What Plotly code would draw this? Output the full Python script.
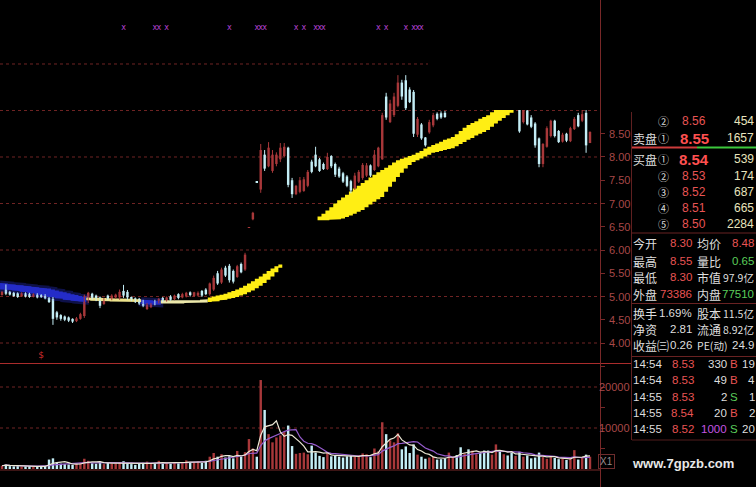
import plotly.graph_objects as go
import pandas as pd

W, H = 756, 487

# ---------------- daily candles (index 0 = oldest) ----------------
opens = [5.03, 5.16, 5.10, 5.08, 5.07, 5.00, 5.07, 5.06, 4.99, 5.05, 5.04, 5.03, 4.97, 4.95, 4.66, 4.60, 4.57, 4.55, 4.52, 4.47,
         4.52, 4.58, 4.92, 5.06, 5.02, 4.98, 4.84, 5.02, 4.95, 4.98, 4.98, 5.12, 5.10, 4.99, 4.96, 4.95, 4.90, 4.73, 4.77, 4.90,
         4.87, 4.97, 4.91, 5.00, 4.94, 5.05, 4.98, 5.00, 5.09, 5.01, 5.02, 5.12, 5.15, 5.05, 5.15, 5.50, 5.30, 5.62, 5.66, 5.55,
         5.42, 5.70, 5.58, 6.48, 6.66, 7.47, 7.30, 8.05, 7.80, 7.70, 7.85, 7.95, 8.02, 8.20, 7.50, 7.20, 7.25, 7.27, 7.38, 7.90,
         8.05, 7.95, 7.85, 7.74, 8.02, 7.85, 7.75, 7.65, 7.58, 7.48, 7.32, 7.47, 7.55, 7.60, 7.82, 7.72, 7.80, 7.95, 9.30, 8.75,
         8.90, 9.10, 9.60, 9.65, 9.45, 9.40, 8.48, 8.70, 8.42, 8.53, 8.68, 8.93, 8.94, 8.95, 9.10, 9.35, 9.62, 9.50, 9.30, 9.70,
         9.55, 9.90, 10.20, 9.95, 9.72, 9.50, 9.70, 9.98, 9.70, 9.85, 9.55, 9.28, 9.05, 8.75, 9.00, 8.85, 8.72, 8.40, 7.85, 8.22,
         8.45, 8.78, 8.56, 8.33, 8.50, 8.34, 8.60, 8.90, 8.78, 8.95, 8.30]
highs = [5.12, 5.26, 5.12, 5.10, 5.09, 5.09, 5.09, 5.08, 5.07, 5.07, 5.05, 5.05, 4.99, 4.99, 4.69, 4.62, 4.59, 4.57, 4.53, 4.56,
         4.65, 5.04, 5.10, 5.08, 5.04, 5.00, 4.97, 5.04, 5.05, 5.06, 5.15, 5.25, 5.14, 5.00, 4.98, 4.97, 4.93, 4.86, 4.86, 4.93,
         4.97, 4.99, 5.00, 5.03, 5.04, 5.07, 5.08, 5.10, 5.11, 5.10, 5.11, 5.14, 5.18, 5.30, 5.45, 5.55, 5.62, 5.66, 5.70, 5.58,
         5.68, 5.73, 5.94, 6.49, 6.82, 7.48, 8.28, 8.15, 8.32, 8.15, 8.10, 8.30, 8.30, 8.22, 7.55, 7.40, 7.57, 7.57, 7.72, 7.94,
         8.22, 7.98, 7.88, 8.09, 8.04, 7.88, 7.79, 7.68, 7.61, 7.51, 7.66, 7.72, 7.87, 7.87, 7.84, 8.15, 8.22, 8.95, 9.38, 9.23,
         9.38, 9.76, 9.66, 9.76, 9.50, 9.44, 8.86, 8.73, 8.43, 8.80, 8.95, 8.96, 8.98, 8.99, 9.40, 9.66, 9.70, 9.55, 9.70, 9.80,
         9.98, 10.25, 10.30, 10.00, 9.78, 9.80, 10.08, 10.02, 9.92, 9.88, 9.60, 9.48, 9.20, 9.20, 9.10, 8.90, 8.75, 8.42, 8.30, 8.66,
         8.80, 8.80, 8.58, 8.52, 8.52, 8.65, 8.86, 8.95, 9.05, 9.10, 8.55]
lows = [5.02, 5.03, 5.02, 4.99, 4.97, 4.99, 4.98, 4.97, 4.98, 4.96, 4.97, 4.94, 4.86, 4.39, 4.50, 4.48, 4.47, 4.45, 4.43, 4.45,
        4.50, 4.54, 4.86, 4.93, 4.90, 4.75, 4.82, 4.92, 4.92, 4.95, 4.93, 4.97, 4.93, 4.90, 4.86, 4.82, 4.77, 4.71, 4.75, 4.81,
        4.85, 4.88, 4.89, 4.91, 4.92, 4.94, 4.96, 4.98, 5.00, 4.99, 5.00, 4.99, 5.03, 5.02, 5.12, 5.25, 5.27, 5.42, 5.30, 5.28,
        5.40, 5.50, 5.55, 6.48, 6.64, 7.44, 7.23, 7.70, 7.78, 7.66, 7.80, 7.89, 8.00, 7.35, 7.12, 7.18, 7.22, 7.25, 7.35, 7.65,
        7.78, 7.68, 7.72, 7.72, 7.76, 7.57, 7.55, 7.44, 7.35, 7.22, 7.29, 7.44, 7.51, 7.57, 7.57, 7.70, 7.78, 7.94, 8.80, 8.73,
        8.86, 9.07, 9.23, 9.01, 9.16, 8.43, 8.43, 8.37, 8.22, 8.50, 8.64, 8.79, 8.82, 8.84, 9.06, 9.30, 9.40, 9.25, 9.28, 9.50,
        9.52, 9.85, 9.90, 9.62, 9.45, 9.46, 9.66, 9.60, 9.62, 9.48, 9.22, 9.18, 8.52, 8.72, 8.68, 8.62, 8.20, 7.78, 7.78, 8.20,
        8.42, 8.42, 8.30, 8.31, 8.32, 8.32, 8.58, 8.64, 8.75, 8.09, 8.30]
closes = [5.10, 5.06, 5.04, 5.01, 4.99, 5.07, 5.00, 4.99, 5.05, 4.98, 4.99, 4.96, 4.88, 4.52, 4.55, 4.52, 4.50, 4.48, 4.46, 4.53,
          4.62, 5.00, 5.08, 4.97, 4.94, 4.80, 4.94, 4.94, 5.02, 5.04, 5.10, 5.02, 4.98, 4.92, 4.88, 4.85, 4.80, 4.82, 4.84, 4.83,
          4.95, 4.91, 4.98, 4.93, 5.02, 4.97, 5.05, 5.08, 5.03, 5.09, 5.08, 5.02, 5.05, 5.28, 5.40, 5.28, 5.58, 5.45, 5.35, 5.32,
          5.65, 5.52, 5.90, 6.49, 6.80, 7.45, 8.15, 7.75, 8.20, 8.05, 8.05, 8.20, 8.22, 7.40, 7.20, 7.38, 7.50, 7.52, 7.68, 7.68,
          7.80, 7.70, 7.74, 8.00, 7.80, 7.62, 7.58, 7.47, 7.38, 7.28, 7.60, 7.68, 7.83, 7.82, 7.60, 8.05, 8.20, 8.90, 8.85, 9.15,
          9.30, 9.60, 9.30, 9.05, 9.18, 8.50, 8.82, 8.40, 8.25, 8.75, 8.90, 8.82, 8.85, 8.86, 9.35, 9.60, 9.45, 9.30, 9.65, 9.55,
          9.90, 10.15, 9.95, 9.70, 9.50, 9.72, 10.00, 9.70, 9.85, 9.55, 9.30, 9.40, 8.55, 9.05, 8.70, 8.65, 8.25, 7.85, 8.28, 8.62,
          8.78, 8.45, 8.32, 8.48, 8.35, 8.62, 8.82, 8.66, 8.92, 8.25, 8.54]
volumes = [800, 1100, 700, 650, 700, 600, 650, 700, 600, 650, 600, 700, 2300, 2600, 1500, 1300, 1200, 1100, 1000, 1300,
           1500, 2500, 2000, 1400, 1300, 1800, 1200, 1500, 1300, 1400, 1700, 1900, 1400, 1200, 1000, 1300, 1500, 1800, 1200, 1400,
           2000, 1300, 1500, 1300, 1600, 1400, 1700, 2100, 1700, 1600, 1900, 1500, 2000, 3000, 3900, 3000, 3600, 2800, 3100, 2600,
           4400, 3000, 4100, 7300, 5000, 3000, 21700, 14400, 8500, 6500, 7700, 8200, 9000, 10600, 5600, 3700, 3900, 4000, 3600, 5700,
           4000, 3200, 2900, 4000, 3100, 3300, 3000, 2800, 3100, 3200, 3000, 3300, 3800, 3600, 2900, 5000, 4300, 11400, 8500, 7000,
           6500, 8700, 4800, 5500, 3900, 6000, 3500, 3000, 2500, 2800, 3000, 2300, 2400, 2600, 4000, 3000, 3400, 5300, 3800, 4800,
           4500, 3600, 3900, 4500, 4500, 3500, 6000, 4300, 3600, 3300, 4000, 3200, 4200, 3000, 3300, 2600, 2800, 4000, 2900, 2500,
           3000, 2700, 2400, 2500, 2200, 2600, 4600, 2300, 2700, 3500, 3000]

# ---------------- trend ribbon segments (upper / lower edge per candle) ----------------
ribbon_blue_a_start = 0
ribbon_blue_a_hi = [5.29, 5.28, 5.27, 5.26, 5.25, 5.24, 5.23, 5.22, 5.21, 5.20, 5.19, 5.18, 5.17, 5.15, 5.13, 5.11, 5.09, 5.07, 5.05, 5.03, 5.01, 4.99]
ribbon_blue_a_lo = [5.15, 5.15, 5.14, 5.13, 5.12, 5.10, 5.09, 5.07, 5.06, 5.04, 5.03, 5.01, 4.99, 4.98, 4.96, 4.95, 4.93, 4.92, 4.91, 4.90, 4.89, 4.88]
ribbon_pale_a_start = 22
ribbon_pale_a_hi = [4.98, 4.98, 4.97, 4.97, 4.97, 4.96, 4.96, 4.96, 4.96, 4.96, 4.95, 4.95, 4.94, 4.94]
ribbon_pale_a_lo = [4.92, 4.91, 4.91, 4.90, 4.90, 4.90, 4.89, 4.89, 4.89, 4.89, 4.89, 4.88, 4.88, 4.88]
ribbon_blue_b_start = 36
ribbon_blue_b_hi = [4.93, 4.92, 4.92, 4.91, 4.91]
ribbon_blue_b_lo = [4.84, 4.83, 4.82, 4.82, 4.82]
ribbon_pale_b_start = 41
ribbon_pale_b_hi = [4.92, 4.92, 4.91, 4.91, 4.91, 4.91, 4.91, 4.91, 4.92, 4.92, 4.93, 4.94]
ribbon_pale_b_lo = [4.85, 4.85, 4.85, 4.85, 4.85, 4.85, 4.86, 4.86, 4.86, 4.86, 4.86, 4.87]
ribbon_gold_a_start = 53
ribbon_gold_a_hi = [4.98, 5.00, 5.02, 5.04, 5.06, 5.09, 5.12, 5.15, 5.19, 5.23, 5.28, 5.33, 5.38, 5.43, 5.49, 5.55, 5.60, 5.65, 5.69]
ribbon_gold_a_lo = [4.88, 4.89, 4.90, 4.92, 4.93, 4.95, 4.97, 4.99, 5.02, 5.05, 5.09, 5.13, 5.18, 5.23, 5.29, 5.36, 5.43, 5.52, 5.62]
ribbon_gold_b_start = 81
ribbon_gold_b_hi = [6.72, 6.78, 6.85, 6.92, 7.00, 7.07, 7.13, 7.19, 7.26, 7.32, 7.38, 7.44, 7.50, 7.56, 7.62, 7.67, 7.72, 7.77,
                    7.82, 7.88, 7.93, 7.96, 7.99, 8.02, 8.05, 8.09, 8.13, 8.18, 8.22, 8.26, 8.29, 8.33, 8.37, 8.40, 8.43, 8.49,
                    8.56, 8.63, 8.69, 8.73, 8.77, 8.82, 8.86, 8.90, 8.96, 9.01, 9.07, 9.12, 9.18, 9.23, 9.29, 9.35, 9.40]
ribbon_gold_b_lo = [6.64, 6.64, 6.64, 6.65, 6.65, 6.66, 6.68, 6.71, 6.74, 6.78, 6.82, 6.86, 6.92, 6.98, 7.04, 7.09, 7.14, 7.25,
                    7.36, 7.47, 7.57, 7.66, 7.75, 7.83, 7.89, 7.93, 7.97, 8.01, 8.05, 8.09, 8.11, 8.13, 8.15, 8.17, 8.19, 8.23,
                    8.28, 8.32, 8.37, 8.41, 8.46, 8.50, 8.54, 8.58, 8.65, 8.72, 8.78, 8.84, 8.90, 8.95, 9.01, 9.06, 9.10]

# signal markers along the top, and the single "$" mark
signal_idx = [31, 39, 40, 42, 58, 65, 66, 67, 75, 77, 80, 81, 82, 96, 98, 103, 105, 106, 107]
signal_level = 10.77
dollar_idx = [10]
dollar_level = 3.72

price_ticks = [4.0, 4.5, 5.0, 5.5, 6.0, 6.5, 7.0, 7.5, 8.0, 8.5]
price_grid = [4, 5, 6, 7, 8, 9, 10]
volume_ticks = [10000, 20000]

# ---------------- quote panel ----------------
ask_marks = ["②", "①"]
ask_prices = [8.56, 8.55]
ask_vols = [454, 1657]
bid_marks = ["①", "②", "③", "④", "⑤"]
bid_prices = [8.54, 8.53, 8.52, 8.51, 8.50]
bid_vols = [539, 174, 687, 665, 2284]
stat_names_a = ["今开", "最高", "最低", "外盘", "换手", "净资", "收益㈢"]
stat_values_a = ["8.30", "8.55", "8.30", "73386", "1.69%", "2.81", "0.26"]
stat_names_b = ["均价", "量比", "市值", "内盘", "股本", "流通", "PE(动)"]
stat_values_b = ["8.48", "0.65", "97.9亿", "77510", "11.5亿", "8.92亿", "24.9"]
tick_times = ["14:54", "14:54", "14:55", "14:55", "14:55"]
tick_prices = [8.53, 8.53, 8.53, 8.54, 8.52]
tick_vols = [330, 49, 2, 20, 1000]
tick_sides = ["B", "B", "S", "B", "S"]
tick_counts = [19, 4, 1, 2, 20]

# ---------------- styling ----------------
RED = "rgb(168,56,58)"
CYAN = "rgb(196,238,246)"
GRID = "rgb(112,36,36)"
AXIS = "rgb(120,40,40)"
NUM = "Liberation Sans Narrow, Arial Narrow, Liberation Sans, Arial, sans-serif"
CJK = "Noto Sans CJK SC"
TXT_RED = "rgb(232,84,84)"
TXT_GRN = "rgb(90,205,90)"
TXT_WHT = "rgb(222,222,222)"
TXT_CRM = "rgb(232,228,190)"
CJK_SIZE = 12
MARK_SIZE = 11
BOOK_SIZE = 12
NUM_SIZE = 11.5

n = len(closes)
idx = list(range(n))
rising = [c >= o for o, c in zip(opens, closes)]


def px_x(x):
    return x / W


def px_y(y):
    return 1 - y / H


fig = go.Figure()


def ribbon(start, hi, lo, color, glow=None):
    xs, ys = [], []
    for k, v in enumerate(hi):
        xs += [start + k - 0.5, start + k + 0.5]
        ys += [v, v]
    for k in range(len(lo) - 1, -1, -1):
        xs += [start + k + 0.5, start + k - 0.5]
        ys += [lo[k], lo[k]]
    xs.append(xs[0])
    ys.append(ys[0])
    if glow:
        fig.add_trace(go.Scatter(x=xs, y=ys, mode="lines", line=dict(color=glow, width=5),
                                 hoverinfo="skip", xaxis="x", yaxis="y"))
    fig.add_trace(go.Scatter(x=xs, y=ys, mode="lines", fill="toself", fillcolor=color,
                             line=dict(width=0, color=color), hoverinfo="skip", xaxis="x", yaxis="y"))


ribbon(ribbon_blue_a_start, ribbon_blue_a_hi, ribbon_blue_a_lo, "rgb(36,44,200)", "rgba(40,50,210,0.35)")
ribbon(ribbon_blue_b_start, ribbon_blue_b_hi, ribbon_blue_b_lo, "rgb(36,44,200)", "rgba(40,50,210,0.35)")
ribbon(ribbon_pale_a_start, ribbon_pale_a_hi, ribbon_pale_a_lo, "rgb(236,226,140)")
ribbon(ribbon_pale_b_start, ribbon_pale_b_hi, ribbon_pale_b_lo, "rgb(236,232,170)")
ribbon(ribbon_gold_a_start, ribbon_gold_a_hi, ribbon_gold_a_lo, "rgb(255,238,20)")
ribbon(ribbon_gold_b_start, ribbon_gold_b_hi, ribbon_gold_b_lo, "rgb(255,238,20)")

# candles: wick line + body bar, split by direction
for flag, col in [(True, RED), (False, CYAN)]:
    sel = [i for i in idx if rising[i] == flag]
    wx, wy = [], []
    for i in sel:
        wx += [i, i, None]
        wy += [lows[i], highs[i], None]
    fig.add_trace(go.Scatter(x=wx, y=wy, mode="lines", line=dict(color=col, width=1),
                             hoverinfo="skip", xaxis="x", yaxis="y"))
    fig.add_trace(go.Bar(x=sel, y=[max(abs(closes[i] - opens[i]), 0.012) for i in sel],
                         base=[min(opens[i], closes[i]) for i in sel], width=0.62,
                         marker=dict(color=col, line=dict(width=0)), hoverinfo="skip",
                         xaxis="x", yaxis="y"))
    fig.add_trace(go.Bar(x=sel, y=[volumes[i] for i in sel], width=0.62,
                         marker=dict(color=col, line=dict(width=0)), hoverinfo="skip",
                         xaxis="x2", yaxis="y2"))

vol = pd.Series(volumes, dtype=float)
ma5 = vol.rolling(5, min_periods=1).mean()
ma10 = vol.rolling(10, min_periods=1).mean()
fig.add_trace(go.Scatter(x=idx, y=ma10, mode="lines", line=dict(color="rgb(150,92,205)", width=1.2),
                         hoverinfo="skip", xaxis="x2", yaxis="y2"))
fig.add_trace(go.Scatter(x=idx, y=ma5, mode="lines", line=dict(color="rgb(236,232,214)", width=1.2),
                         hoverinfo="skip", xaxis="x2", yaxis="y2"))

fig.add_trace(go.Scatter(x=signal_idx, y=[signal_level] * len(signal_idx), mode="text", text=["x"] * len(signal_idx),
                         textfont=dict(family="DejaVu Sans", size=8, color="rgb(176,64,206)"),
                         hoverinfo="skip", xaxis="x", yaxis="y"))
fig.add_trace(go.Scatter(x=dollar_idx, y=[dollar_level] * len(dollar_idx), mode="text", text=["$"] * len(dollar_idx),
                         textfont=dict(family="DejaVu Sans", size=9, color="rgb(205,45,45)"),
                         hoverinfo="skip", xaxis="x", yaxis="y"))

shapes = []
for g in price_grid:
    shapes.append(dict(type="line", xref="paper", yref="y", x0=0, x1=px_x(600), y0=g, y1=g,
                       line=dict(color=GRID, width=1, dash="dot"), layer="below"))
for g in volume_ticks:
    shapes.append(dict(type="line", xref="paper", yref="y2", x0=0, x1=px_x(600), y0=g, y1=g,
                       line=dict(color=GRID, width=1, dash="dot"), layer="below"))


def hline(y, x0, x1, color, width=1):
    shapes.append(dict(type="line", xref="paper", yref="paper", x0=px_x(x0), x1=px_x(x1),
                       y0=px_y(y), y1=px_y(y), line=dict(color=color, width=width), layer="above"))


def vline(x, y0, y1, color, width=1):
    shapes.append(dict(type="line", xref="paper", yref="paper", x0=px_x(x), x1=px_x(x),
                       y0=px_y(y0), y1=px_y(y1), line=dict(color=color, width=width), layer="above"))


# blacked-out upper-right block
shapes.append(dict(type="rect", xref="paper", yref="paper", x0=px_x(428), x1=1, y0=px_y(110), y1=1,
                   fillcolor="black", line=dict(width=0), layer="above"))
hline(363.5, 0, 631, "rgb(170,44,44)")
hline(470, 0, 600, "rgb(120,40,40)")
vline(600.5, 0, 487, AXIS)
vline(631.5, 112, 440, "rgb(95,32,32)")
hline(147.5, 632, 697, "rgb(205,60,60)", 2)
hline(147.5, 697, 756, "rgb(60,200,60)", 2)
hline(233, 632, 756, "rgb(105,34,34)")
hline(303.5, 632, 756, "rgb(105,34,34)")
hline(356.5, 632, 756, "rgb(105,34,34)")
hline(440, 632, 756, "rgb(80,28,28)")

ann = []


def label(x, y, s, color, size=NUM_SIZE, anchor="left", family=NUM, bold=False):
    ann.append(dict(x=px_x(x), y=px_y(y), xref="paper", yref="paper", text=f"<b>{s}</b>" if bold else s,
                    showarrow=False, xanchor=anchor, yanchor="middle", borderpad=0,
                    font=dict(family=family, size=size, color=color)))


for v in price_ticks:
    ann.append(dict(x=px_x(631), xref="paper", y=v, yref="y", text=f"{v:.2f}", showarrow=False,
                    xanchor="right", yanchor="middle", borderpad=0,
                    font=dict(family=NUM, size=11, color="rgb(168,72,72)")))
for v in volume_ticks:
    ann.append(dict(x=px_x(631), xref="paper", y=v, yref="y2", text=f"{v}", showarrow=False,
                    xanchor="right", yanchor="middle", borderpad=0,
                    font=dict(family=NUM, size=11, color="rgb(168,72,72)")))

# order book
ask_rows = [121, 138]
for k, y in enumerate(ask_rows):
    best = ask_marks[k] == "①"
    if best:
        label(632, y, "卖盘", TXT_WHT, CJK_SIZE, family=CJK)
    label(663, y, ask_marks[k], TXT_WHT, MARK_SIZE, "center", CJK)
    label(710 if best else 707, y, f"{ask_prices[k]:.2f}", "rgb(255,80,80)" if best else TXT_RED,
          15 if best else BOOK_SIZE, "right", bold=best)
    label(755, y, str(ask_vols[k]), TXT_CRM, BOOK_SIZE, "right")
bid_rows = [159, 176, 192, 208, 224]
for k, y in enumerate(bid_rows):
    best = k == 0
    if best:
        label(632, y, "买盘", TXT_WHT, CJK_SIZE, family=CJK)
    label(663, y, bid_marks[k], TXT_WHT, MARK_SIZE, "center", CJK)
    label(710 if best else 707, y, f"{bid_prices[k]:.2f}", "rgb(255,80,80)" if best else TXT_RED,
          15 if best else BOOK_SIZE, "right", bold=best)
    label(755, y, str(bid_vols[k]), TXT_CRM, BOOK_SIZE, "right")

# statistics
stat_rows = [243, 261, 277, 294, 313, 329, 345]
colors_a = [TXT_RED, TXT_RED, TXT_RED, TXT_RED, TXT_WHT, TXT_WHT, TXT_WHT]
colors_b = [TXT_RED, TXT_GRN, TXT_WHT, TXT_GRN, TXT_WHT, TXT_WHT, TXT_WHT]
for k, y in enumerate(stat_rows):
    label(632, y, stat_names_a[k], TXT_WHT, CJK_SIZE, family=CJK)
    label(693, y, stat_values_a[k], colors_a[k], NUM_SIZE, "right")
    label(696, y, stat_names_b[k], TXT_WHT, CJK_SIZE if k < 6 else 10.5, family=CJK)
    label(755, y, stat_values_b[k], colors_b[k], NUM_SIZE if k in (0, 1, 3, 6) else 10.5, "right",
          family=NUM if k in (0, 1, 3, 6) else CJK)

# tick-by-tick trades
tick_rows = [364, 380, 397, 413, 429]
for k, y in enumerate(tick_rows):
    label(632, y, tick_times[k], TXT_WHT, NUM_SIZE)
    label(695, y, f"{tick_prices[k]:.2f}", TXT_RED, NUM_SIZE, "right")
    label(728, y, str(tick_vols[k]), "rgb(196,84,226)" if tick_vols[k] >= 1000 else TXT_WHT, NUM_SIZE, "right")
    label(734, y, tick_sides[k], TXT_RED if tick_sides[k] == "B" else TXT_GRN, NUM_SIZE, "center")
    label(756, y, str(tick_counts[k]), TXT_WHT, NUM_SIZE, "right")

label(683, 463, "www.7gpzb.com", "rgb(232,232,232)", 13, "center", "Liberation Sans, Arial, sans-serif", bold=True)
ann.append(dict(x=px_x(606), y=px_y(461), xref="paper", yref="paper", text="X1", showarrow=False,
                xanchor="center", yanchor="middle", bordercolor="rgb(110,45,45)", borderwidth=1, borderpad=1,
                font=dict(family=NUM, size=10, color="rgb(150,140,140)")))

xr = [-0.51, 152.55]
fig.update_layout(
    width=W, height=H, margin=dict(l=0, r=0, t=0, b=0),
    paper_bgcolor="black", plot_bgcolor="black", showlegend=False, barmode="overlay",
    xaxis=dict(domain=[0, px_x(600)], range=xr, visible=False, anchor="y"),
    xaxis2=dict(domain=[0, px_x(600)], range=xr, visible=False, anchor="y2", matches="x"),
    yaxis=dict(domain=[px_y(363), 1], range=[3.570, 11.376], side="right", showgrid=False, zeroline=False,
               showticklabels=False, ticks="outside", ticklen=4, tickcolor=AXIS, tickvals=price_ticks,
               anchor="x"),
    yaxis2=dict(domain=[px_y(469), px_y(363)], range=[0, 25854], side="right", showgrid=False, zeroline=False,
                showticklabels=False, ticks="outside", ticklen=4, tickcolor=AXIS,
                tickvals=[5000, 10000, 15000, 20000, 25000], anchor="x2"),
    shapes=shapes, annotations=ann,
)

fig.write_html("out.html")
